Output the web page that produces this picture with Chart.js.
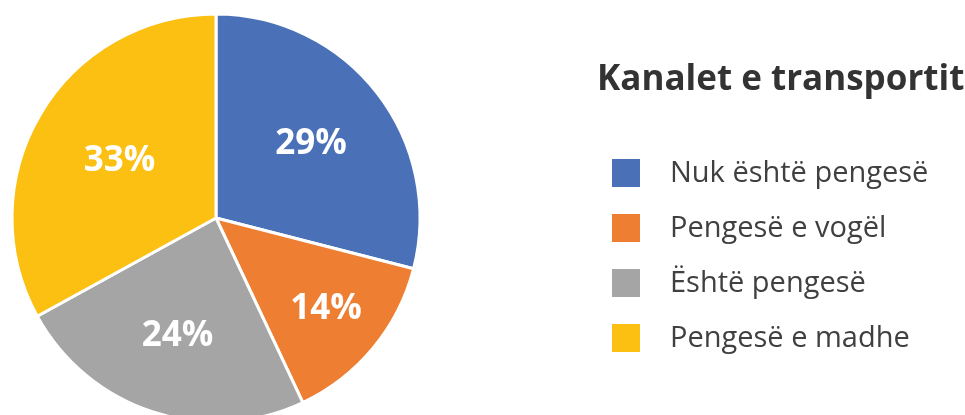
<!DOCTYPE html>
<html>
<head>
<meta charset="utf-8">
<script src="https://cdn.jsdelivr.net/npm/chart.js@4.4.1/dist/chart.umd.min.js"></script>
<style>
  html, body { margin: 0; padding: 0; background: #fff; overflow: hidden; }
  #wrap { position: relative; width: 965px; height: 436px; }
</style>
</head>
<body>
<div id="wrap"><canvas id="chart" width="965" height="436"></canvas></div>
<script>
const legendTitle = "Kanalet e transportit";
const categories = ["Nuk është pengesë", "Pengesë e vogël", "Është pengesë", "Pengesë e madhe"];
const shares = [29, 14, 24, 33];
const sliceColors = ["#4A71B8", "#EE7E32", "#A5A5A5", "#FCC012"];

// how far out from the centre each percentage label sits (fraction of radius)
const labelDepth = [0.59, 0.70, 0.61, 0.55];

const sliceLabels = {
    id: "sliceLabels",
    afterDatasetsDraw(chart) {
        const ctx = chart.ctx;
        const arcs = chart.getDatasetMeta(0).data;
        ctx.save();
        ctx.fillStyle = "#ffffff";
        ctx.font = "bold 35px 'Open Sans'";
        ctx.textAlign = "center";
        ctx.textBaseline = "middle";
        arcs.forEach((arc, i) => {
            const { x, y, startAngle, endAngle, outerRadius } = arc.getProps(
                ["x", "y", "startAngle", "endAngle", "outerRadius"], true
            );
            const mid = (startAngle + endAngle) / 2;
            const r = outerRadius * labelDepth[i];
            ctx.fillText(shares[i] + "%", x + Math.cos(mid) * r, y + Math.sin(mid) * r);
        });
        ctx.restore();
    },
};

const sideLegend = {
    id: "sideLegend",
    afterDraw(chart) {
        const ctx = chart.ctx;
        ctx.save();
        ctx.textBaseline = "middle";
        ctx.textAlign = "left";
        ctx.fillStyle = "#333333";
        ctx.font = "bold 35px 'Open Sans'";
        ctx.fillText(legendTitle, 597, 80);

        ctx.font = "29px 'Open Sans'";
        categories.forEach((label, i) => {
            const cy = 173 + i * 55;
            ctx.fillStyle = sliceColors[i];
            ctx.fillRect(612, cy - 14, 28, 28);
            ctx.fillStyle = "#404040";
            ctx.fillText(label, 670, cy + 1);
        });
        ctx.restore();
    },
};

function drawChart() {
    new Chart(document.getElementById("chart"), {
        type: "pie",
        data: {
            labels: categories,
            datasets: [
                {
                    data: shares,
                    backgroundColor: sliceColors,
                    borderColor: "#ffffff",
                    borderWidth: 3,
                    radius: 204,
                },
            ],
        },
        options: {
            responsive: false,
            animation: false,
            layout: { padding: { left: 0, top: 0, right: 533, bottom: 0 } },
            plugins: {
                legend: { display: false },
                tooltip: { enabled: false },
            },
        },
        plugins: [sliceLabels, sideLegend],
    });
}

document.fonts.load("bold 35px 'Open Sans'").then(() => document.fonts.load("29px 'Open Sans'")).then(drawChart, drawChart);
</script>
</body>
</html>
